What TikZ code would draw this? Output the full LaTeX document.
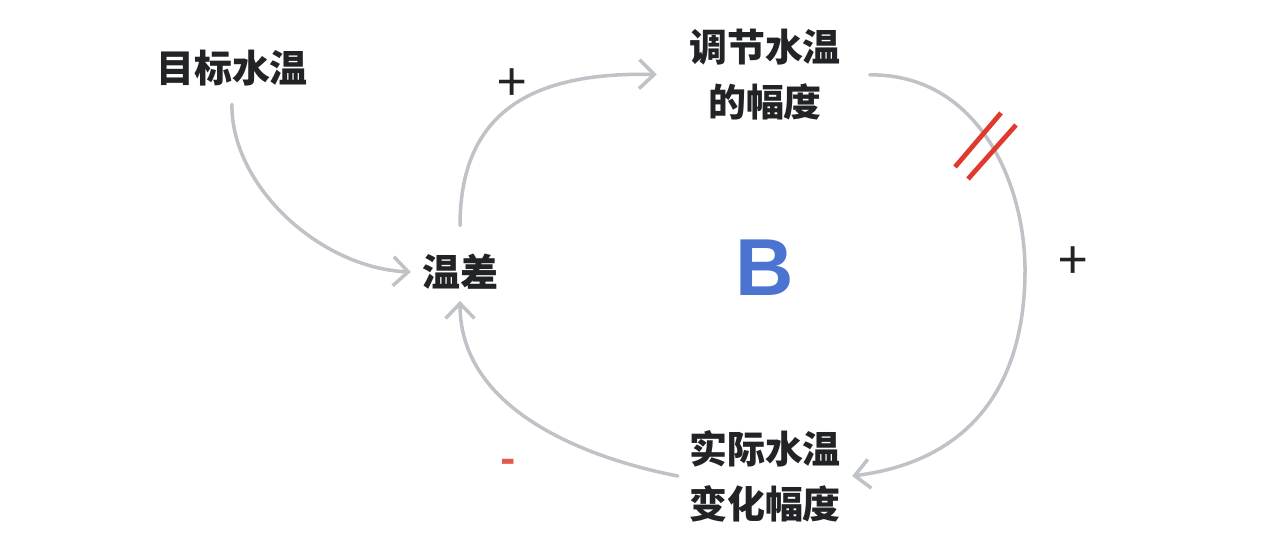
\documentclass[tikz,border=0pt]{standalone}
\usepackage{fontspec}
\setmainfont{Noto Sans CJK SC}
\newfontfamily\latinb{Liberation Sans}
\definecolor{mygray}{HTML}{BFC2C7}
\definecolor{myblue}{HTML}{4A74CF}
\definecolor{myred}{HTML}{E0392E}
\definecolor{mydark}{HTML}{222326}
\usetikzlibrary{arrows.meta, positioning}
\tikzset{
	varnode/.style={font=\fontsize{10.8}{15.6}\selectfont\bfseries\color{mydark}, align=center, inner sep=3pt}
}
\tikzset{
	linkarrow/.style={draw=mygray, line width=1pt, line cap=round,
		-{Straight Barb[length=1.5mm, width=2.9mm, line width=1pt]}}
}
\tikzset{
	signtext/.style={font=\fontsize{15}{16}\selectfont, text=mydark}
}
\tikzset{
	delaymark/.style={draw=myred, line width=1.35pt}
}

\begin{document}
\begin{tikzpicture}
\useasboundingbox (0,0) rectangle (12.8,5.46);

\coordinate (mGoal) at (2.32,4.78);
\coordinate (mDiff) at (4.60,2.74);
\coordinate (mAdj) at (7.65,4.71);
\coordinate (mAct) at (7.65,0.70);

\node[varnode] (goal) at (mGoal) {目标水温};
\node[varnode] (diff) at (mDiff) {温差};
\node[varnode] (adj) at (mAdj) {调节水温\\的幅度};
\node[varnode] (act) at (mAct) {实际水温\\变化幅度};

\node[font=\fontsize{23}{24}\selectfont\latinb\bfseries, text=myblue] (loop) at (7.65,2.78) {B};

\draw[linkarrow, shorten <=2pt] (goal.south) .. controls (2.31,3.6) and (3.2,2.78) .. (diff.west);
\draw[linkarrow, shorten <=5pt, shorten >=6pt] (diff.north) .. controls (4.60,4.4) and (5.4,4.74) .. (adj.west);
\draw[linkarrow, shorten <=5pt] (adj.east) .. controls (9.8,4.72) and (10.25,3.6) .. (10.25,2.76)
	.. controls (10.25,1.6) and (9.7,0.85) .. (act.east);
\draw[linkarrow] (act.west) .. controls (6.0,0.85) and (4.6,1.3) .. (diff.south);

\node[signtext] (plusA) at (5.12,4.61) {+};
\node[signtext] (plusB) at (10.73,2.83) {+};
\node[font=\fontsize{11.5}{12}\selectfont\bfseries, text=myred!85!white] (minus) at (5.08,0.80) {-};

\draw[delaymark] (10.01,4.33) -- (9.55,3.79);
\draw[delaymark] (10.16,4.21) -- (9.68,3.67);

\end{tikzpicture}
\end{document}
